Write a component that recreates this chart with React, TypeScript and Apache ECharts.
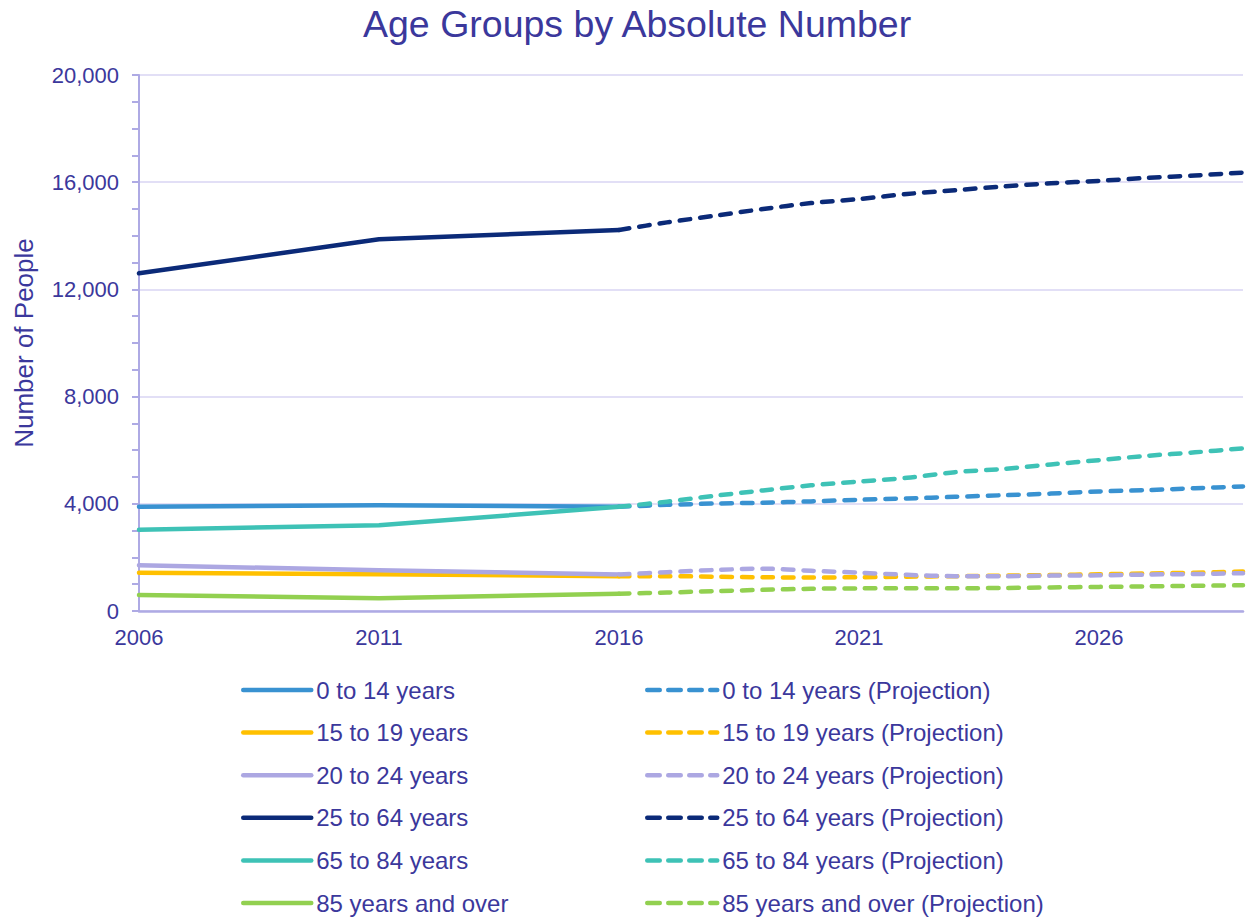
import React, { useEffect, useRef } from "react";
import * as echarts from "echarts";

// ---- data ----
const BASE_YEAR = 2006;
const historicalYears = [2006, 2011, 2016];
const projectionYears = [2016, 2017, 2018, 2019, 2020, 2021, 2022, 2023, 2024, 2025, 2026, 2027, 2028, 2029];
const xTickYears = [2006, 2011, 2016, 2021, 2026];

const groupNames = [
  "0 to 14 years",
  "15 to 19 years",
  "20 to 24 years",
  "25 to 64 years",
  "65 to 84 years",
  "85 years and over",
];

const hist0to14 = [3890, 3950, 3890];
const hist15to19 = [1430, 1370, 1300];
const hist20to24 = [1710, 1520, 1360];
const hist25to64 = [12600, 13870, 14220];
const hist65to84 = [3030, 3200, 3890];
const hist85plus = [600, 480, 640];

const proj0to14 = [3890, 3960, 4010, 4040, 4090, 4150, 4200, 4260, 4320, 4380, 4460, 4510, 4580, 4650];
const proj15to19 = [1300, 1300, 1280, 1260, 1250, 1260, 1280, 1300, 1320, 1340, 1370, 1400, 1430, 1470];
const proj20to24 = [1360, 1450, 1530, 1580, 1500, 1430, 1350, 1300, 1300, 1320, 1330, 1360, 1380, 1410];
const proj25to64 = [14220, 14500, 14750, 15000, 15220, 15370, 15560, 15700, 15840, 15960, 16050, 16160, 16250, 16360];
const proj65to84 = [3890, 4080, 4300, 4500, 4690, 4830, 4970, 5180, 5300, 5470, 5630, 5790, 5920, 6070];
const proj85plus = [640, 690, 740, 790, 830, 845, 850, 850, 860, 880, 900, 920, 940, 960];

const historical = [hist0to14, hist15to19, hist20to24, hist25to64, hist65to84, hist85plus];
const projections = [proj0to14, proj15to19, proj20to24, proj25to64, proj65to84, proj85plus];

// ---- styles ----
const colors = ["#3992d1", "#ffc000", "#aca7e2", "#0b2a78", "#3ec2b6", "#92d050"];
const textColor = "#3b389c";
const font = "'Liberation Sans', Arial, Helvetica, sans-serif";
const axisColor = "#aeaae4";
const gridColor = "#d8d5f3";

export default function App() {
  const ref = useRef<HTMLDivElement>(null);

  useEffect(() => {
    if (!ref.current) return;
    const chart = echarts.init(ref.current, undefined, { renderer: "svg" });

    const projNames = groupNames.map((n) => n + " (Projection)");

    const series: any[] = [];
    groupNames.forEach((name, i) => {
      series.push({
        name,
        type: "line",
        data: historicalYears.map((y, k) => [y - BASE_YEAR, historical[i][k]]),
        showSymbol: false,
        symbol: "circle",
        lineStyle: { color: colors[i], width: 4.5, cap: "round", join: "round" },
        itemStyle: { color: colors[i] },
        z: 2,
      });
    });
    groupNames.forEach((name, i) => {
      series.push({
        name: projNames[i],
        type: "line",
        data: projectionYears.map((y, k) => [y - BASE_YEAR, projections[i][k]]),
        showSymbol: false,
        symbol: "circle",
        smooth: 0.3,
        lineStyle: {
          color: colors[i],
          width: 4.5,
          type: [10.5, 10],
          cap: "round",
          join: "round",
        },
        itemStyle: { color: colors[i] },
        z: 2,
      });
    });

    const legendCommon = {
      orient: "vertical",
      top: 678,
      height: 240,
      padding: 0,
      itemHeight: 14,
      itemGap: 18.6,
      selectedMode: false,
      itemStyle: { opacity: 0 },
      textStyle: { color: textColor, fontSize: 24, fontFamily: font, lineHeight: 24 },
    };

    chart.setOption({
      animation: false,
      backgroundColor: "#ffffff",
      title: {
        text: "Age Groups by Absolute Number",
        left: 358,
        top: 0,
        textStyle: { color: textColor, fontSize: 37.5, fontWeight: "normal", fontFamily: font },
      },
      grid: { left: 139, right: 5, top: 75, bottom: 309, containLabel: false },
      legend: [
        {
          ...legendCommon,
          left: 241,
          itemWidth: 68,
          data: groupNames,
          lineStyle: { width: 4.5, cap: "round" },
        },
        {
          ...legendCommon,
          left: 645,
          itemWidth: 70,
          data: projNames,
          lineStyle: { width: 4.5, cap: "round", type: [12.5, 8.5] },
        },
      ],
      xAxis: {
        type: "value",
        min: 0,
        max: 23,
        interval: 5,
        axisLine: { show: true, onZero: true, lineStyle: { color: axisColor, width: 2.5 } },
        axisTick: { show: false },
        splitLine: { show: false },
        axisLabel: {
          color: textColor,
          fontSize: 22,
          fontFamily: font,
          margin: 15,
          showMaxLabel: false,
          formatter: (v: number) => {
            const yr = BASE_YEAR + v;
            return xTickYears.includes(yr) ? String(yr) : "";
          },
        },
      },
      yAxis: {
        type: "value",
        min: 0,
        max: 20000,
        interval: 4000,
        name: "Number of People",
        nameLocation: "middle",
        nameGap: 102,
        nameRotate: 90,
        nameTextStyle: { color: textColor, fontSize: 26, fontFamily: font },
        axisLine: { show: true, lineStyle: { color: axisColor, width: 2 } },
        axisTick: { show: true, length: 7, lineStyle: { color: axisColor, width: 2 } },
        minorTick: { show: true, splitNumber: 4, length: 7, lineStyle: { color: axisColor, width: 2 } },
        splitLine: { show: true, lineStyle: { color: gridColor, width: 1.5 } },
        axisLabel: { color: textColor, fontSize: 22, fontFamily: font, margin: 20 },
      },
      series,
    });

    return () => chart.dispose();
  }, []);

  return (
    <div
      ref={ref}
      style={{ position: "fixed", left: 0, top: 0, width: 1248, height: 920, background: "#fff" }}
    />
  );
}
